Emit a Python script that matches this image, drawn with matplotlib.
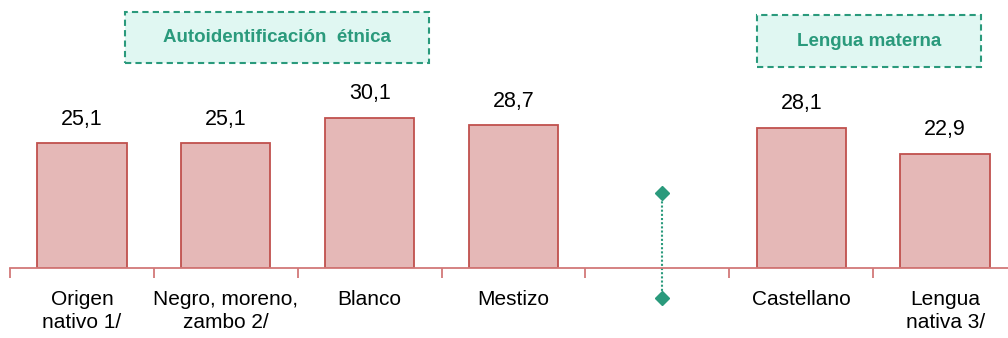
import numpy as np
import matplotlib
matplotlib.use('Agg')
import matplotlib.pyplot as plt
from matplotlib.patches import Rectangle

plt.rcParams['font.family'] = ['Liberation Sans', 'DejaVu Sans']

# ========== Datos ==========
categorias = ['Origen\nnativo 1/', 'Negro, moreno,\nzambo 2/', 'Blanco', 'Mestizo',
              '', 'Castellano', 'Lengua\nnativa 3/']
valores = [25.1, 25.1, 30.1, 28.7, np.nan, 28.1, 22.9]
etiquetas = ['25,1', '25,1', '30,1', '28,7', '', '28,1', '22,9']
grupos = ['Autoidentificación  étnica', 'Lengua materna']

# ========== Colores ==========
c_barra = '#e5b8b7'
c_borde = '#c0504d'
c_eje = '#d27878'
c_verde = '#2a9a7c'
c_caja = '#e0f7f2'

fig = plt.figure(figsize=(10.08, 3.38), dpi=100)
ax = fig.add_axes([10 / 1008, 70 / 338, 1007 / 1008, 250 / 338])

x = np.arange(len(categorias))
barras = ax.bar(x, valores, width=0.62, color=c_barra, edgecolor=c_borde, linewidth=1.3)

# etiquetas de valor
for xi, v, t in zip(x, valores, etiquetas):
    if np.isnan(v):
        continue
    ax.annotate(t, (xi, v), xytext=(0, 13), textcoords='offset pixels',
                ha='center', va='bottom', fontsize=15.5, color='black')

# eje
ax.set_xlim(-0.5, len(categorias) - 0.5)
ax.set_ylim(0, 50)
for s in ['top', 'right', 'left']:
    ax.spines[s].set_visible(False)
ax.spines['bottom'].set_color(c_eje)
ax.spines['bottom'].set_linewidth(1.3)
ax.set_yticks([])

ax.set_xticks(x)
ax.set_xticklabels(categorias, fontsize=15, linespacing=1.25)
ax.tick_params(axis='x', which='major', length=0, pad=16)
ax.set_xticks(np.arange(-0.5, len(categorias)), minor=True)
ax.tick_params(axis='x', which='minor', length=7, width=1.3, color=c_eje)

# separador punteado con rombos
ax.plot([4.03, 4.03], [15, -6], color=c_verde, linestyle=(0, (1, 1)), linewidth=1.5,
        clip_on=False)
ax.plot([4.03, 4.03], [15, -6], linestyle='none', marker='D', markersize=7,
        color=c_verde, clip_on=False)

# cajas de grupo
cajas = [(0.30, 41.0, 2.11, 10.2), (4.69, 40.2, 1.56, 10.4)]
for (bx, by, bw, bh), nombre in zip(cajas, grupos):
    ax.add_patch(Rectangle((bx, by), bw, bh, facecolor=c_caja, edgecolor=c_verde,
                           linewidth=1.5, linestyle=(0, (3, 2)), clip_on=False))
    ax.text(bx + bw / 2, by + bh / 2, nombre, ha='center', va='center',
            fontsize=13.5, fontweight='bold', color=c_verde)

plt.savefig('out.png', dpi=100)
